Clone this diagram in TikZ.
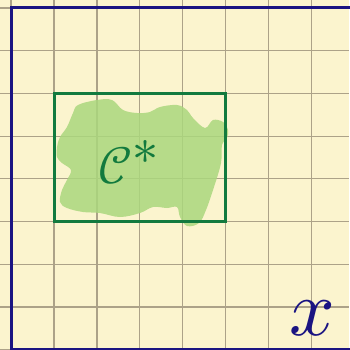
\documentclass[tikz,border=0pt]{standalone}
\usepackage{unicode-math}
\definecolor{paper}{RGB}{251,244,206}
\definecolor{gridc}{RGB}{172,162,136}
\definecolor{axisblue}{RGB}{26,20,130}
\definecolor{boxgreen}{RGB}{18,122,62}
\definecolor{blobgreen}{RGB}{170,215,125}
\begin{document}
\begin{tikzpicture}[x=1pt,y=-1pt,
  gridline/.style={draw=gridc,line width=1.2pt},
  axisline/.style={draw=axisblue,line width=3pt},
  boxline/.style={draw=boxgreen,line width=3pt},
  blob/.style={fill=blobgreen,fill opacity=0.85}]
\useasboundingbox (0,0) rectangle (349,350);
\fill[paper] (0,0) rectangle (349,350);
% grid
\foreach \k in {0,...,8} {
  \draw[gridline] ({11+42.95*\k},0) -- ({11+42.95*\k},350);
  \draw[gridline] (0,{8+42.7*\k}) -- (349,{8+42.7*\k});
}
% blob
\fill[blob] plot[smooth cycle,tension=0.6] coordinates {
 (78,105) (97,100) (112,100) (123,110) (137,113) (150,112) (160,107) (177,105)
 (187,110) (193,118) (205,128) (213,120) (223,122) (228,130) (227,138) (222,145)
 (221,163) (214,187) (206,210) (199,223) (187,226) (180,217) (177,207) (167,208)
 (153,207) (140,213) (120,217) (100,213) (83,212) (67,208) (60,202) (62,190)
 (67,180) (71,170) (62,163) (57,157) (57,147) (60,137) (67,127) (73,113)};
% green box
\coordinate (b1) at (54,93.4);
\coordinate (b2) at (225.8,221.5);
\draw[boxline] (b1) rectangle (b2);
% blue axes
\coordinate (o) at (11,8);
\coordinate (xr) at (360,8);
\coordinate (yb) at (11,349.5);
\coordinate (br) at (360,349.5);
\draw[axisline] (xr) -- (o) -- (yb) -- (br);
% labels
\node[text=boxgreen,font=\fontsize{52}{52}\selectfont,anchor=base west,inner sep=0pt] (cstar) at (98,183) {$\mathcal{C}^{\textstyle\ast}$};
\node[text=axisblue,font=\fontsize{80}{80}\selectfont,inner sep=0pt] (xlab) at (312,318) {$x$};
\end{tikzpicture}
\end{document}
